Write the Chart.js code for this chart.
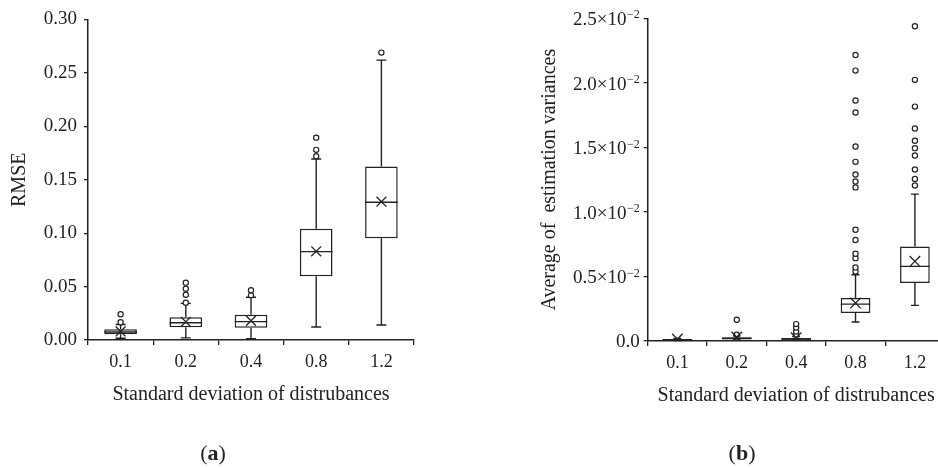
<!DOCTYPE html>
<html>
<head>
<meta charset="utf-8">
<script src="https://cdn.jsdelivr.net/npm/chart.js@4"></script>
<style>
  html, body { margin: 0; padding: 0; overflow: hidden; background: #fff; }
  body { position: relative; width: 938px; height: 468px; font-family: 'Liberation Serif', serif; color: #222; }
  #left  { position: absolute; left: 0;     top: 0; }
  #right { position: absolute; left: 469px; top: 0; }
  .tag { position: absolute; font-size: 22px; transform: translate(-50%, -50%); white-space: nowrap; }
  .tag b { font-weight: bold; }
</style>
</head>
<body>
<canvas id="left" width="469" height="468"></canvas>
<canvas id="right" width="491" height="468"></canvas>
<div class="tag" style="left:213px; top:453px;">(<b>a</b>)</div>
<div class="tag" style="left:742px; top:453px;">(<b>b</b>)</div>

<script>
// categories shared by both panels
const categories = ['0.1', '0.2', '0.4', '0.8', '1.2'];

// (a) RMSE box plot
const rmseMin    = [0.0016, 0.0020, 0.0012, 0.0122, 0.0140];
const rmseQ1     = [0.0053, 0.0119, 0.0115, 0.0596, 0.0952];
const rmseMedian = [0.0075, 0.0162, 0.0172, 0.0827, 0.1289];
const rmseQ3     = [0.0100, 0.0212, 0.0237, 0.1042, 0.1625];
const rmseMax    = [0.0145, 0.0343, 0.0400, 0.1694, 0.2620];
const rmseMean   = [0.0080, 0.0170, 0.0180, 0.0830, 0.1295];
const rmseOutliers = [
  [0.0166, 0.0241],
  [0.0349, 0.0424, 0.0480, 0.0537],
  [0.0418, 0.0465],
  [0.1720, 0.1780, 0.1894],
  [0.2690],
];

// (b) average of estimation variances, in units of 10^-2
const varMin    = [0.004, 0.008, 0.008, 0.147, 0.276];
const varQ1     = [0.006, 0.012, 0.010, 0.217, 0.449];
const varMedian = [0.010, 0.020, 0.016, 0.286, 0.578];
const varQ3     = [0.014, 0.030, 0.024, 0.333, 0.733];
const varMax    = [0.020, 0.040, 0.035, 0.513, 1.138];
const varMean   = [0.015, 0.030, 0.025, 0.294, 0.617];
const varOutliers = [
  [],
  [0.049, 0.165],
  [0.049, 0.074, 0.105, 0.131],
  [0.539, 0.570, 0.642, 0.676, 0.782, 0.862, 1.190, 1.236, 1.290, 1.388, 1.507, 1.770, 1.863, 2.095, 2.216],
  [1.205, 1.256, 1.329, 1.437, 1.494, 1.551, 1.646, 1.816, 2.023, 2.438],
];

const INK = '#222';
const FONT = 'Liberation Serif';

// whiskers, caps and median lines, drawn right after the boxes
const boxWhiskers = {
  id: 'boxWhiskers',
  afterDatasetDraw(chart, args, opts) {
    if (args.index !== 0) return;
    const { ctx, scales: { x, y } } = chart;
    const bars = chart.getDatasetMeta(0).data;
    ctx.save();
    ctx.strokeStyle = INK;
    ctx.lineWidth = opts.lineWidth;
    opts.min.forEach((lo, i) => {
      const cx = x.getPixelForValue(i);
      const half = opts.capWidth / 2;
      const yLo = y.getPixelForValue(lo);
      const yHi = y.getPixelForValue(opts.max[i]);
      const yQ1 = y.getPixelForValue(opts.q1[i]);
      const yQ3 = y.getPixelForValue(opts.q3[i]);
      const yMed = y.getPixelForValue(opts.median[i]);
      const bw = bars[i].width / 2;
      ctx.beginPath();
      ctx.moveTo(cx, yQ1); ctx.lineTo(cx, yLo);
      ctx.moveTo(cx - half, yLo); ctx.lineTo(cx + half, yLo);
      ctx.moveTo(cx, yQ3); ctx.lineTo(cx, yHi);
      ctx.moveTo(cx - half, yHi); ctx.lineTo(cx + half, yHi);
      ctx.moveTo(cx - bw, yMed); ctx.lineTo(cx + bw, yMed);
      ctx.stroke();
    });
    ctx.restore();
  }
};

// y tick labels with a superscript exponent (panel b)
const sciTicks = {
  id: 'sciTicks',
  afterDraw(chart) {
    const { ctx, scales: { y } } = chart;
    const xr = y.right - 8;
    ctx.save();
    ctx.fillStyle = INK;
    ctx.textAlign = 'right';
    ctx.textBaseline = 'middle';
    y.ticks.forEach(t => {
      const py = y.getPixelForValue(t.value);
      if (t.value === 0) {
        ctx.font = `19px "${FONT}"`;
        ctx.fillText('0.0', xr, py + 1);
        return;
      }
      ctx.font = `12px "${FONT}"`;
      const sup = '\u22122';
      const sw = ctx.measureText(sup).width;
      ctx.fillText(sup, xr, py - 3);
      ctx.font = `19px "${FONT}"`;
      ctx.fillText(t.value.toFixed(1) + '\u00d710', xr - sw - 0.5, py + 2);
    });
    ctx.restore();
  }
};

function flatten(groups) {
  const pts = [];
  groups.forEach((g, i) => g.forEach(v => pts.push({ x: categories[i], y: v })));
  return pts;
}

function boxChart(canvasId, cfg) {
  return new Chart(document.getElementById(canvasId), {
    type: 'bar',
    data: {
      labels: categories,
      datasets: [
        {
          data: cfg.q1.map((v, i) => [v, cfg.q3[i]]),
          backgroundColor: '#fff',
          borderColor: INK,
          borderWidth: 1.5,
          borderSkipped: false,
          categoryPercentage: 1,
          barPercentage: 0.5,
          order: 3,
        },
        {
          type: 'line',
          data: flatten(cfg.outliers),
          showLine: false,
          pointStyle: 'circle',
          pointRadius: 2.6,
          pointBackgroundColor: '#fff',
          pointBorderColor: INK,
          pointBorderWidth: 1.2,
          order: 2,
        },
        {
          type: 'line',
          data: cfg.mean.map((v, i) => ({ x: categories[i], y: v })),
          showLine: false,
          pointStyle: 'crossRot',
          pointRadius: cfg.markerRadius,
          pointBorderColor: INK,
          pointBorderWidth: 1.3,
          order: 1,
        },
      ],
    },
    plugins: cfg.extraPlugins ? [boxWhiskers, ...cfg.extraPlugins] : [boxWhiskers],
    options: {
      responsive: false,
      animation: false,
      events: [],
      layout: { autoPadding: false, padding: cfg.padding },
      plugins: {
        legend: { display: false },
        tooltip: { enabled: false },
        boxWhiskers: {
          min: cfg.min, max: cfg.max, q1: cfg.q1, q3: cfg.q3, median: cfg.median,
          capWidth: cfg.capWidth, lineWidth: 1.4,
        },
      },
      scales: {
        x: {
          offset: true,
          afterFit: s => { s.height = 67; },
          grid: { offset: true, drawOnChartArea: false, tickLength: 5, color: INK, lineWidth: 1.3 },
          border: { color: INK, width: 1.5 },
          ticks: { color: INK, padding: 6, font: { family: FONT, size: 18 } },
          title: { display: true, text: 'Standard deviation of distrubances', color: INK, padding: 0, font: { family: FONT, size: 20 } },
        },
        y: {
          min: 0,
          max: cfg.yMax,
          afterFit: s => { s.width = cfg.yWidth; },
          grid: { drawOnChartArea: false, tickLength: 4, color: INK, lineWidth: 1.3 },
          border: { color: INK, width: 1.5 },
          ticks: {
            display: cfg.showYTicks,
            stepSize: cfg.yStep,
            padding: 7,
            color: INK,
            font: { family: FONT, size: 19 },
            callback: v => v.toFixed(2),
          },
          title: { display: true, text: cfg.yTitle, color: INK, padding: 0, font: { family: FONT, size: 20 } },
        },
      },
    },
  });
}

boxChart('left', {
  q1: rmseQ1, q3: rmseQ3, min: rmseMin, max: rmseMax, median: rmseMedian,
  mean: rmseMean, outliers: rmseOutliers,
  yMax: 0.30, yStep: 0.05, yTitle: 'RMSE', showYTicks: true,
  yWidth: 80, padding: { left: 8, top: 19.5, right: 55, bottom: 61 },
  capWidth: 10, markerRadius: 7,
});

boxChart('right', {
  q1: varQ1, q3: varQ3, min: varMin, max: varMax, median: varMedian,
  mean: varMean, outliers: varOutliers,
  yMax: 2.5, yStep: 0.5, yTitle: 'Average of  estimation variances', showYTicks: false,
  yWidth: 109.7, padding: { left: 69, top: 18.3, right: 15.4, bottom: 60 },
  capWidth: 8, markerRadius: 7.5,
  extraPlugins: [sciTicks],
});
</script>
</body>
</html>
